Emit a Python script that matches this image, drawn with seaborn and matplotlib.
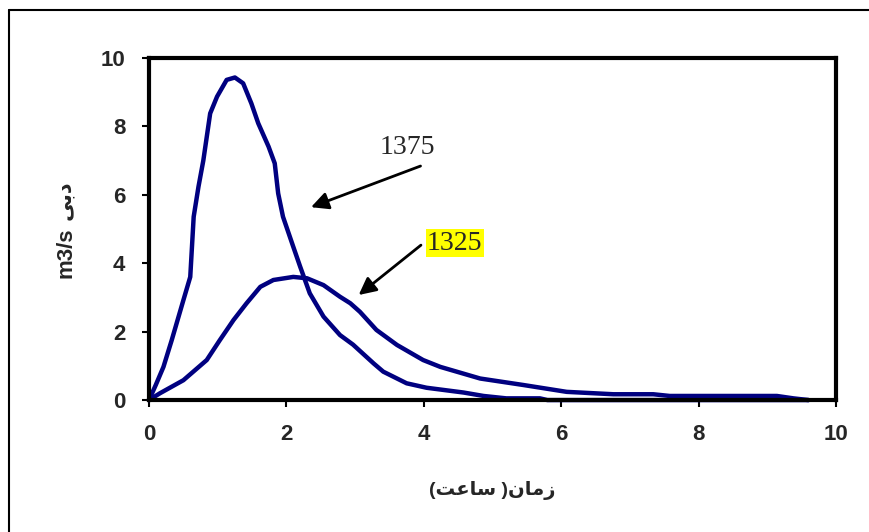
import pandas as pd
import matplotlib.pyplot as plt
import seaborn as sns
from matplotlib.lines import Line2D

x_1375 = [0, 0.1, 0.21, 0.33, 0.5, 0.6, 0.65, 0.72, 0.79, 0.89, 0.99, 1.13, 1.25, 1.37, 1.49, 1.59,
          1.74, 1.83, 1.88, 1.95, 2.10, 2.20, 2.34, 2.54, 2.78, 2.97, 3.27, 3.41, 3.75, 4.04, 4.58,
          4.87, 5.2, 5.69, 5.8, 9.6]
y_1375 = [0, 0.45, 0.97, 1.75, 2.92, 3.6, 5.36, 6.24, 7.0, 8.38, 8.87, 9.36, 9.43, 9.26, 8.67, 8.09,
          7.41, 6.92, 6.04, 5.36, 4.48, 3.90, 3.12, 2.44, 1.90, 1.62, 1.07, 0.83, 0.49, 0.36, 0.22,
          0.12, 0.05, 0.05, 0, 0]
x_1325 = [0, 0.16, 0.5, 0.84, 1.03, 1.23, 1.42, 1.62, 1.81, 2.10, 2.30, 2.54, 2.78, 2.93, 3.07, 3.31,
          3.61, 3.99, 4.24, 4.82, 5.45, 6.08, 6.76, 7.34, 7.58, 9.14, 9.38, 9.6]
y_1325 = [0, 0.2, 0.58, 1.17, 1.75, 2.34, 2.83, 3.31, 3.51, 3.6, 3.56, 3.36, 3.02, 2.83, 2.58, 2.05,
          1.61, 1.17, 0.97, 0.63, 0.44, 0.24, 0.17, 0.17, 0.12, 0.12, 0.05, 0]
ticks = [0, 2, 4, 6, 8, 10]

# arabic text, written in visual order with presentation forms (matplotlib has no shaping)
x_label = "(" + "\uFE96\uFECB\uFE8E\uFEB3" + " )" + "\uFEE5\uFE8E\uFEE3\uFEAF"
y_arabic = "\uFBFD\uFE91\uFEA9"

df = pd.concat([
    pd.DataFrame({"t": x_1375, "q": y_1375, "year": "1375"}),
    pd.DataFrame({"t": x_1325, "q": y_1325, "year": "1325"}),
])

sns.set_style("white")
plt.rcParams["font.family"] = ["Liberation Sans", "DejaVu Sans"]

fig = plt.figure(figsize=(8.69, 5.32), dpi=100)
ax = fig.add_axes([0.1715, 0.248, 0.7905, 0.643])

sns.lineplot(data=df, x="t", y="q", units="year", estimator=None, sort=False,
             color="#000080", linewidth=3.2, ax=ax, clip_on=False)

ax.set_xlim(0, 10)
ax.set_ylim(0, 10)
ax.set_xticks(ticks)
ax.set_yticks(ticks)
ax.set_xticklabels(ticks, fontsize=16, fontweight="bold")
ax.set_yticklabels(ticks, fontsize=16, fontweight="bold")
ax.tick_params(axis="both", direction="out", length=5, width=1.5, color="black",
               bottom=True, left=True, pad=12)
for s in ax.spines.values():
    s.set_color("black")
    s.set_linewidth(3)

ax.set_xlabel(x_label, fontsize=14, fontweight="bold", labelpad=26)
ax.set_ylabel("")
fig.text(0.076, 0.524, "m3/s", rotation=90, fontsize=16, fontweight="bold",
         ha="center", va="center")
fig.text(0.074, 0.624, y_arabic, rotation=90, fontsize=15, fontweight="bold",
         ha="center", va="center")

ax.text(3.76, 7.37, "1375", fontsize=20, family="Liberation Serif", ha="center", va="center")
ax.annotate("", xy=(2.32, 5.61), xytext=(3.99, 6.87),
            arrowprops=dict(arrowstyle="-|>", color="black", lw=2, mutation_scale=26))
ax.text(4.45, 4.59, "1325", fontsize=20, family="Liberation Serif", ha="center", va="center",
        bbox=dict(facecolor="yellow", edgecolor="none", pad=1))
ax.annotate("", xy=(3.02, 3.02), xytext=(3.99, 4.58),
            arrowprops=dict(arrowstyle="-|>", color="black", lw=2, mutation_scale=26))

# outer frame, only left and top edges are inside the picture
fig.add_artist(Line2D([9 / 869, 9 / 869], [0, 1 - 10 / 532], color="black", lw=1.5))
fig.add_artist(Line2D([9 / 869, 1], [1 - 10 / 532, 1 - 10 / 532], color="black", lw=1.5))

fig.savefig("out.png", dpi=100)
